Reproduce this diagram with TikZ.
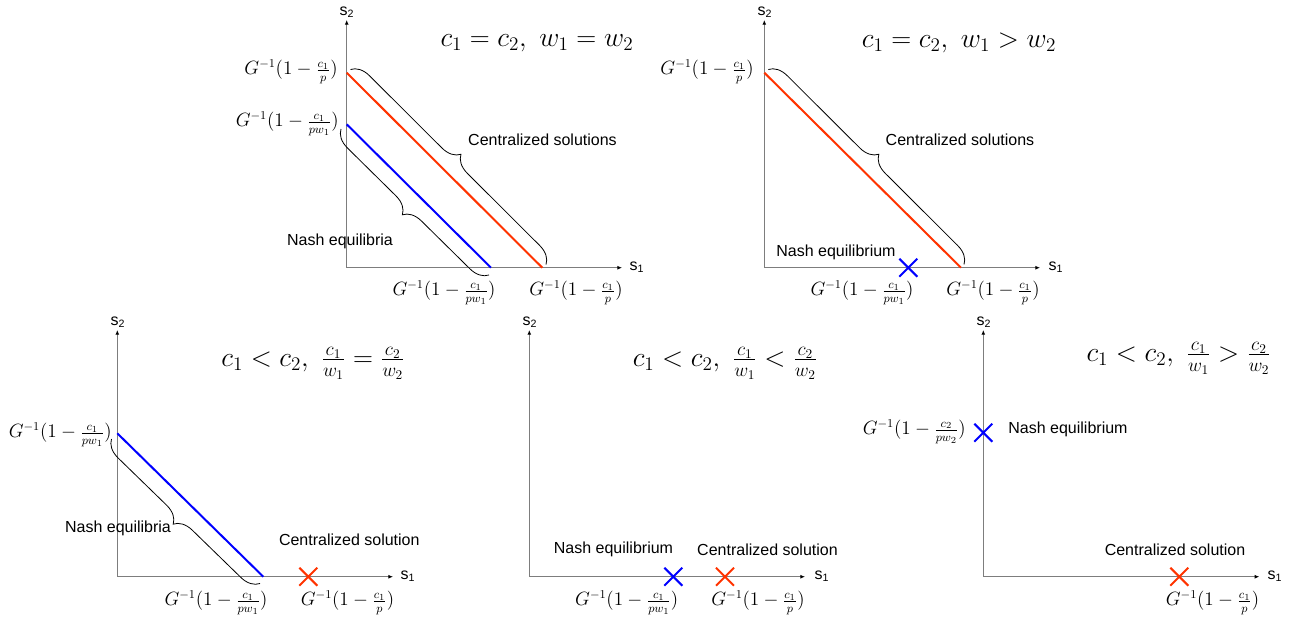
\documentclass[tikz,border=0pt]{standalone}
\usepackage{fontspec}
\newfontfamily\lsans{Liberation Sans}
\usetikzlibrary{arrows.meta,decorations.pathreplacing,shapes.misc}
\definecolor{redl}{RGB}{255,51,0}
\definecolor{bluel}{RGB}{0,0,255}
\definecolor{axisgray}{RGB}{125,125,125}
\newcommand{\Gl}[2]{$G^{-1}(1-\frac{#1}{#2})$}
\tikzset{
  axisline/.style={draw=axisgray, line width=0.7pt, -{Latex[color=black,length=3.5pt,width=3pt]}},
  redline/.style={draw=redl, line width=1.5pt},
  blueline/.style={draw=bluel, line width=1.5pt},
  bracepath/.style={draw=black, line width=0.6pt, decorate, decoration={brace, amplitude=13.5pt}},
  txt/.style={font=\lsans\fontsize{12}{14}\selectfont, inner sep=0pt},
  lbl/.style={font=\fontsize{13.5}{16}\selectfont, inner sep=0pt},
  ttl/.style={font=\fontsize{20}{24}\selectfont, inner sep=0pt},
  axlbl/.style={font=\lsans\fontsize{12}{14}\selectfont, inner sep=0pt},
  bluex/.style={cross out, draw=bluel, line width=1.5pt, minimum size=12pt, inner sep=0pt},
  redx/.style={cross out, draw=redl, line width=1.5pt, minimum size=12pt, inner sep=0pt},
}
\begin{document}
\begin{tikzpicture}[x=0.75pt,y=-0.75pt]
\useasboundingbox (0,0) rectangle (1307,618);
% ---------- Panel 1 ----------
\coordinate (o1) at (346.7,267.7);
\coordinate (y1) at (346.7,20);
\coordinate (x1) at (622,267.7);
\draw[axisline] (o1) -- (y1);
\draw[axisline] (o1) -- (x1);
\node[axlbl] (s2a) at (347,12) {s\textsubscript{2}};
\node[axlbl] (s1a) at (637,267) {s\textsubscript{1}};
\coordinate (r1a) at (346.7,72.7);
\coordinate (r1b) at (542.3,267.7);
\coordinate (b1a) at (346.7,124.3);
\coordinate (b1b) at (491,267.7);
\draw[redline] (r1a) -- (r1b);
\draw[blueline] (b1a) -- (b1b);
\coordinate (cb1s) at (350.5,69.5);
\coordinate (cb1e) at (546,264.5);
\draw[bracepath] (cb1s) -- (cb1e);
\coordinate (nb1s) at (489,275);
\coordinate (nb1e) at (341,129);
\draw[bracepath] (nb1s) -- (nb1e);
\node[ttl] (t1) at (537,43) {$c_1=c_2,\ w_1=w_2$};
\node[lbl, anchor=east] (ya1) at (338,72) {\Gl{c_1}{p}};
\node[lbl, anchor=east] (yb1) at (339,124) {\Gl{c_1}{pw_1}};
\node[lbl] (xa1) at (444,293) {\Gl{c_1}{pw_1}};
\node[lbl] (xb1) at (576,293) {\Gl{c_1}{p}};
\node[txt] (cs1) at (542.5,140) {Centralized solutions};
\node[txt] (ne1) at (340,241) {Nash equilibria};
% ---------- Panel 2 ----------
\coordinate (o2) at (764.3,267.7);
\coordinate (y2) at (764.3,20);
\coordinate (x2) at (1040,267.7);
\draw[axisline] (o2) -- (y2);
\draw[axisline] (o2) -- (x2);
\node[axlbl] (s2b) at (765,12) {s\textsubscript{2}};
\node[axlbl] (s1b) at (1056,267) {s\textsubscript{1}};
\coordinate (r2a) at (764.3,72.7);
\coordinate (r2b) at (961,267.7);
\draw[redline] (r2a) -- (r2b);
\coordinate (cb2s) at (768.3,69.5);
\coordinate (cb2e) at (964,264.5);
\draw[bracepath] (cb2s) -- (cb2e);
\node[bluex] (bx2) at (908.3,267.7) {};
\node[ttl] (t2) at (959,43) {$c_1=c_2,\ w_1>w_2$};
\node[lbl, anchor=east] (ya2) at (754,72) {\Gl{c_1}{p}};
\node[lbl] (xa2) at (862,293) {\Gl{c_1}{pw_1}};
\node[lbl] (xb2) at (993,293) {\Gl{c_1}{p}};
\node[txt] (cs2) at (960,140) {Centralized solutions};
\node[txt] (ne2) at (836,252) {Nash equilibrium};
% ---------- Panel 3 ----------
\coordinate (o3) at (117.3,576.7);
\coordinate (y3) at (117.3,330);
\coordinate (x3) at (393,576.7);
\draw[axisline] (o3) -- (y3);
\draw[axisline] (o3) -- (x3);
\node[axlbl] (s2c) at (118,322) {s\textsubscript{2}};
\node[axlbl] (s1c) at (408,576) {s\textsubscript{1}};
\coordinate (b3a) at (117.3,433.3);
\coordinate (b3b) at (263.3,576.7);
\draw[blueline] (b3a) -- (b3b);
\coordinate (nb3s) at (260,583.5);
\coordinate (nb3e) at (111.5,439);
\draw[bracepath] (nb3s) -- (nb3e);
\node[redx] (rx3) at (308.3,576.7) {};
\node[ttl] (t3) at (313,363.3) {$c_1<c_2,\ \frac{c_1}{w_1}=\frac{c_2}{w_2}$};
\node[lbl, anchor=east] (ya3) at (112,435) {\Gl{c_1}{pw_1}};
\node[lbl] (xa3) at (216,603) {\Gl{c_1}{pw_1}};
\node[lbl] (xb3) at (347.5,603) {\Gl{c_1}{p}};
\node[txt] (ne3) at (118,528.3) {Nash equilibria};
\node[txt] (cs3) at (349.3,539.3) {Centralized solution};
% ---------- Panel 4 ----------
\coordinate (o4) at (529.3,576.7);
\coordinate (y4) at (529.3,330);
\coordinate (x4) at (805,576.7);
\draw[axisline] (o4) -- (y4);
\draw[axisline] (o4) -- (x4);
\node[axlbl] (s2d) at (530,322) {s\textsubscript{2}};
\node[axlbl] (s1d) at (822,576) {s\textsubscript{1}};
\node[bluex] (bx4) at (673.3,576.7) {};
\node[redx] (rx4) at (725,576.7) {};
\node[ttl] (t4) at (725,363.3) {$c_1<c_2,\ \frac{c_1}{w_1}<\frac{c_2}{w_2}$};
\node[lbl] (xa4) at (626.7,603) {\Gl{c_1}{pw_1}};
\node[lbl] (xb4) at (758,603) {\Gl{c_1}{p}};
\node[txt] (ne4) at (613.5,549.3) {Nash equilibrium};
\node[txt] (cs4) at (767.5,549.3) {Centralized solution};
% ---------- Panel 5 ----------
\coordinate (o5) at (983.3,576.7);
\coordinate (y5) at (983.3,330);
\coordinate (x5) at (1259.3,576.7);
\draw[axisline] (o5) -- (y5);
\draw[axisline] (o5) -- (x5);
\node[axlbl] (s2e) at (984,322) {s\textsubscript{2}};
\node[axlbl] (s1e) at (1275,576) {s\textsubscript{1}};
\node[bluex] (bx5) at (983.3,432.7) {};
\node[redx] (rx5) at (1179.3,576.7) {};
\node[ttl] (t5) at (1178.7,358.3) {$c_1<c_2,\ \frac{c_1}{w_1}>\frac{c_2}{w_2}$};
\node[lbl, anchor=east] (ya5) at (966,431.7) {\Gl{c_2}{pw_2}};
\node[lbl] (xb5) at (1212.5,603) {\Gl{c_1}{p}};
\node[txt] (ne5) at (1068,429.3) {Nash equilibrium};
\node[txt] (cs5) at (1175,549.3) {Centralized solution};
\end{tikzpicture}
\end{document}
